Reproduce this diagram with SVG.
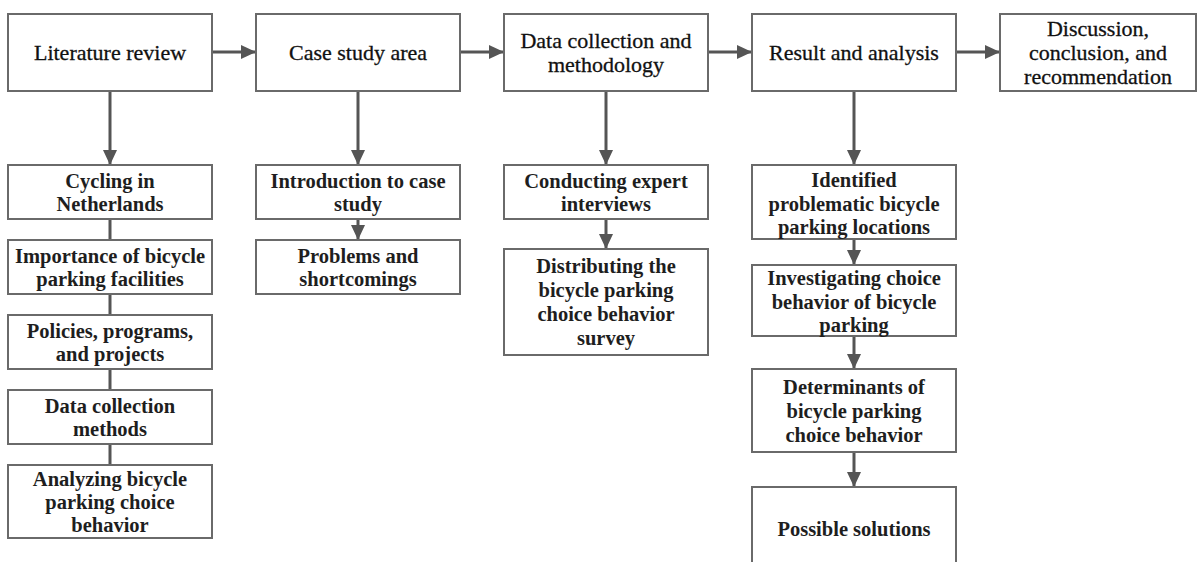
<svg xmlns="http://www.w3.org/2000/svg" width="1200" height="562" viewBox="0 0 1200 562">
<style>
.box{fill:#fff;stroke:#6a6a6a;stroke-width:2}
.top{font-family:"Liberation Serif","Times New Roman",serif;font-size:22px;fill:#111;stroke:#111;stroke-width:0.3;text-anchor:middle}
.sub{font-family:"Liberation Serif","Times New Roman",serif;font-size:20.5px;font-weight:bold;fill:#1e1e1e;text-anchor:middle}
.con{stroke:#555;stroke-width:3;fill:none}
.arr{stroke:#555;stroke-width:3;fill:none;marker-end:url(#ah)}
</style>
<defs>
<marker id="ah" markerUnits="userSpaceOnUse" markerWidth="16" markerHeight="14" refX="15" refY="7" orient="auto">
<path d="M0,0 L15,7 L0,14 z" fill="#555"/>
</marker>
</defs>
<rect width="1200" height="562" fill="#fff"/>
<g id="connectors">
<line class="arr" x1="212" y1="52" x2="256" y2="52"/>
<line class="arr" x1="460" y1="52" x2="504" y2="52"/>
<line class="arr" x1="708" y1="52" x2="752" y2="52"/>
<line class="arr" x1="956" y1="52" x2="1000" y2="52"/>
<line class="arr" x1="110" y1="91" x2="110" y2="165"/>
<line class="arr" x1="358" y1="91" x2="358" y2="165"/>
<line class="arr" x1="606" y1="91" x2="606" y2="165"/>
<line class="arr" x1="854" y1="91" x2="854" y2="165"/>
<line class="con" x1="110" y1="219" x2="110" y2="240"/>
<line class="con" x1="110" y1="294" x2="110" y2="315"/>
<line class="con" x1="110" y1="369" x2="110" y2="390"/>
<line class="con" x1="110" y1="444" x2="110" y2="465"/>
<line class="arr" x1="358" y1="219" x2="358" y2="240"/>
<line class="arr" x1="606" y1="219" x2="606" y2="249"/>
<line class="arr" x1="854" y1="239" x2="854" y2="265"/>
<line class="arr" x1="854" y1="336" x2="854" y2="369"/>
<line class="arr" x1="854" y1="452" x2="854" y2="487"/>
</g>
<g id="literature-review"><rect class="box" x="8" y="14" width="204" height="77"/><text class="top" x="110" y="60">Literature review</text></g>
<g id="case-study-area"><rect class="box" x="256" y="14" width="204" height="77"/><text class="top" x="358" y="60">Case study area</text></g>
<g id="data-collection"><rect class="box" x="504" y="14" width="204" height="77"/><text class="top" x="606" y="48">Data collection and</text><text class="top" x="606" y="72">methodology</text></g>
<g id="result-analysis"><rect class="box" x="752" y="14" width="204" height="77"/><text class="top" x="854" y="60">Result and analysis</text></g>
<g id="discussion"><rect class="box" x="1000" y="14" width="196" height="77"/><text class="top" x="1098" y="36">Discussion,</text><text class="top" x="1098" y="60">conclusion, and</text><text class="top" x="1098" y="84">recommendation</text></g>

<g id="cycling"><rect class="box" x="8" y="165" width="204" height="54"/><text class="sub" x="110" y="187.5">Cycling in</text><text class="sub" x="110" y="211">Netherlands</text></g>
<g id="importance"><rect class="box" x="8" y="240" width="204" height="54"/><text class="sub" x="110" y="262.5">Importance of bicycle</text><text class="sub" x="110" y="286">parking facilities</text></g>
<g id="policies"><rect class="box" x="8" y="315" width="204" height="54"/><text class="sub" x="110" y="337.5">Policies, programs,</text><text class="sub" x="110" y="361">and projects</text></g>
<g id="data-methods"><rect class="box" x="8" y="390" width="204" height="54"/><text class="sub" x="110" y="412.5">Data collection</text><text class="sub" x="110" y="436">methods</text></g>
<g id="analyzing"><rect class="box" x="8" y="465" width="204" height="73"/><text class="sub" x="110" y="486">Analyzing bicycle</text><text class="sub" x="110" y="509">parking choice</text><text class="sub" x="110" y="532">behavior</text></g>

<g id="introduction"><rect class="box" x="256" y="165" width="204" height="54"/><text class="sub" x="358" y="187.5">Introduction to case</text><text class="sub" x="358" y="211">study</text></g>
<g id="problems"><rect class="box" x="256" y="240" width="204" height="54"/><text class="sub" x="358" y="262.5">Problems and</text><text class="sub" x="358" y="286">shortcomings</text></g>

<g id="conducting"><rect class="box" x="504" y="165" width="204" height="54"/><text class="sub" x="606" y="187.5">Conducting expert</text><text class="sub" x="606" y="211">interviews</text></g>
<g id="distributing"><rect class="box" x="504" y="249" width="204" height="106"/><text class="sub" x="606" y="273">Distributing the</text><text class="sub" x="606" y="297">bicycle parking</text><text class="sub" x="606" y="321">choice behavior</text><text class="sub" x="606" y="345">survey</text></g>

<g id="identified"><rect class="box" x="752" y="165" width="204" height="74"/><text class="sub" x="854" y="187">Identified</text><text class="sub" x="854" y="210.5">problematic bicycle</text><text class="sub" x="854" y="234">parking locations</text></g>
<g id="investigating"><rect class="box" x="752" y="265" width="204" height="71"/><text class="sub" x="854" y="285">Investigating choice</text><text class="sub" x="854" y="308.5">behavior of bicycle</text><text class="sub" x="854" y="332">parking</text></g>
<g id="determinants"><rect class="box" x="752" y="369" width="204" height="83"/><text class="sub" x="854" y="394">Determinants of</text><text class="sub" x="854" y="418">bicycle parking</text><text class="sub" x="854" y="442">choice behavior</text></g>
<g id="possible-solutions"><rect class="box" x="752" y="487" width="204" height="80"/><text class="sub" x="854" y="536">Possible solutions</text></g>
</svg>
